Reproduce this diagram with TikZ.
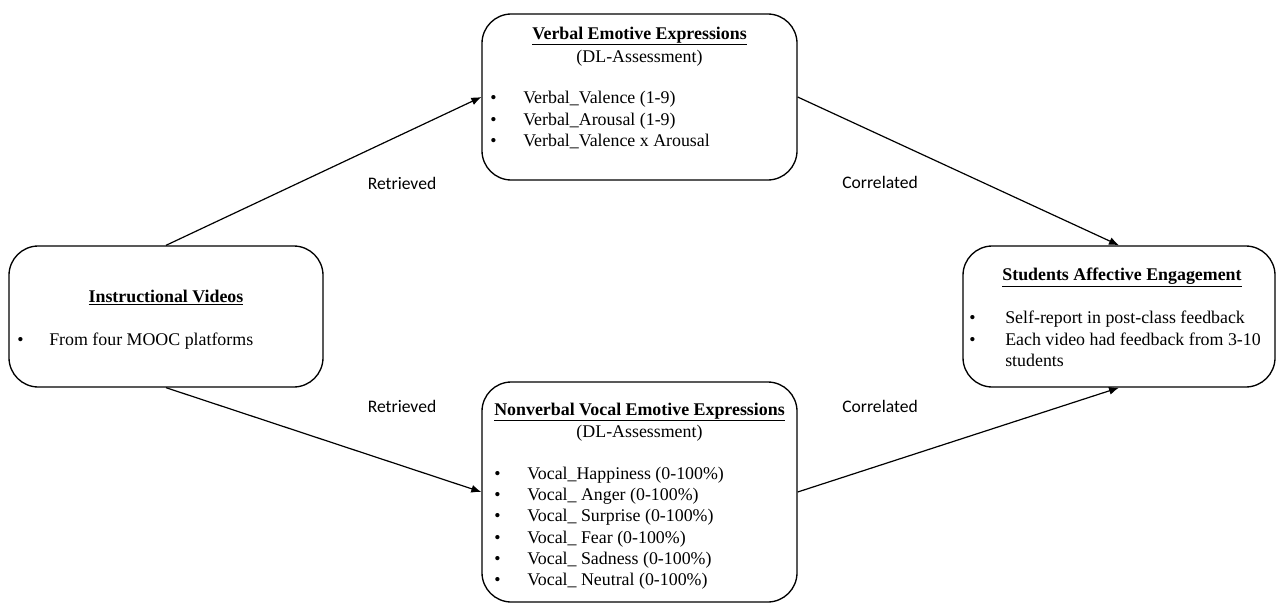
\documentclass[tikz,border=0pt]{standalone}
\usepackage{fontspec}
\setmainfont{Liberation Serif}
\newfontfamily\labelfont{Carlito}
\usetikzlibrary{shapes,arrows.meta}

\begin{document}
\begin{tikzpicture}[x=0.75pt,y=-0.75pt,
  box/.style={draw,line width=1pt,rounded corners=22pt,inner sep=0pt},
  txt/.style={inner sep=0pt,anchor=base west,font=\fontsize{13.4}{16}\selectfont},
  head/.style={inner sep=0pt,anchor=base,font=\fontsize{13.4}{16}\selectfont},
  edgelabel/.style={inner sep=0pt,font=\labelfont\fontsize{13.2}{15}\selectfont},
  link/.style={line width=0.9pt,-{Latex[length=7.5pt,width=6pt]}}]
\useasboundingbox (0,0) rectangle (1276,603);
% Boxes
\node[box,minimum width=235.5pt,minimum height=105.75pt] (videos) at (166,316.5) {};
\node[box,minimum width=236.25pt,minimum height=124.5pt] (verbal) at (639.5,97) {};
\node[box,minimum width=236.25pt,minimum height=165pt] (vocal) at (639.5,492) {};
\node[box,minimum width=234pt,minimum height=105.75pt] (engage) at (1119,316.5) {};
% Instructional Videos
\node[head] (videostitle) at (166,302) {\textbf{\underline{Instructional Videos}}};
\node[txt] (videosb1) at (17,345) {\textbullet};
\node[txt] (videos1) at (49,345) {From four MOOC platforms};
% Verbal
\node[head] (verbaltitle) at (639.5,39) {\textbf{\underline{Verbal Emotive Expressions}}};
\node[head] (verbalsub) at (639.5,62) {(DL-Assessment)};
\node[txt] (verbalb1) at (490,103) {\textbullet};
\node[txt] (verbalb2) at (490,125) {\textbullet};
\node[txt] (verbalb3) at (490,146) {\textbullet};
\node[txt] (verbal1) at (523,103) {Verbal\_Valence (1-9)};
\node[txt] (verbal2) at (523,125) {Verbal\_Arousal (1-9)};
\node[txt] (verbal3) at (523,146) {Verbal\_Valence x Arousal};
% Nonverbal vocal
\node[head] (vocaltitle) at (639.5,415) {\textbf{\underline{Nonverbal Vocal Emotive Expressions}}};
\node[head] (vocalsub) at (639.5,437) {(DL-Assessment)};
\node[txt] (vocalb1) at (494,479) {\textbullet};
\node[txt] (vocalb2) at (494,500) {\textbullet};
\node[txt] (vocalb3) at (494,521) {\textbullet};
\node[txt] (vocalb4) at (494,543) {\textbullet};
\node[txt] (vocalb5) at (494,564) {\textbullet};
\node[txt] (vocalb6) at (494,585) {\textbullet};
\node[txt] (vocal1) at (527,479) {Vocal\_Happiness (0-100\%)};
\node[txt] (vocal2) at (527,500) {Vocal\_ Anger (0-100\%)};
\node[txt] (vocal3) at (527,521) {Vocal\_ Surprise (0-100\%)};
\node[txt] (vocal4) at (527,543) {Vocal\_ Fear (0-100\%)};
\node[txt] (vocal5) at (527,564) {Vocal\_ Sadness (0-100\%)};
\node[txt] (vocal6) at (527,585) {Vocal\_ Neutral (0-100\%)};
% Students
\node[head] (engagetitle) at (1122,280) {\textbf{\underline{Students Affective Engagement}}};
\node[txt] (engageb1) at (969,323) {\textbullet};
\node[txt] (engageb2) at (969,345) {\textbullet};
\node[txt] (engage1) at (1005,323) {Self-report in post-class feedback};
\node[txt] (engage2) at (1005,345) {Each video had feedback from 3-10};
\node[txt] (engage3) at (1005,366) {students};
% Connectors
\draw[link] (videos.north) -- (verbal.west);
\draw[link] (videos.south) -- (vocal.west);
\draw[link] (verbal.east) -- (engage.north);
\draw[link] (vocal.east) -- (engage.south);
\node[edgelabel] (retr1) at (402,183) {Retrieved};
\node[edgelabel] (retr2) at (402,406) {Retrieved};
\node[edgelabel] (corr1) at (880,182) {Correlated};
\node[edgelabel] (corr2) at (880,406) {Correlated};
\end{tikzpicture}
\end{document}
